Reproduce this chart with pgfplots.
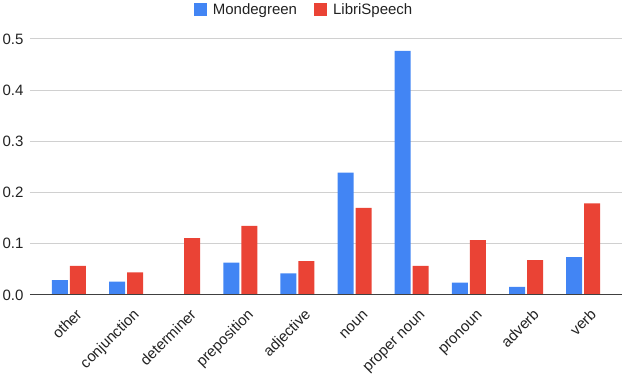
\documentclass[border=0pt]{standalone}
\usepackage{fontspec}
\setmainfont{Liberation Sans}
\usepackage{pgfplots}
\pgfplotsset{compat=1.18}
\definecolor{mblue}{HTML}{4285F4}
\definecolor{mred}{HTML}{EA4335}
\definecolor{gridc}{HTML}{D0D0D0}
\definecolor{txt}{HTML}{222222}
\newcommand{\lblfont}{\fontsize{15}{18}\selectfont}
\begin{document}
\begin{tikzpicture}
\begin{axis}[
    scale only axis,
    width=592pt, height=256pt,
    xmin=-0.68, xmax=9.68,
    ymin=0, ymax=0.5,
    ytick={0,0.1,0.2,0.3,0.4,0.5},
    xtick={0,...,9},
    xticklabels={other,conjunction,determiner,preposition,adjective,noun,proper noun,pronoun,adverb,verb},
    major tick length=0pt,
    axis line style={draw=none},
    ymajorgrids=true,
    grid style={gridc, line width=1pt},
    tick label style={font=\lblfont, text=txt},
    yticklabel style={/pgf/number format/fixed, /pgf/number format/fixed zerofill,
        /pgf/number format/precision=1, xshift=-3pt},
    /pgf/number format/assume math mode=true,
    xticklabel style={xshift=14pt, yshift=-20.5pt, rotate=45, anchor=base east, inner sep=0pt},
    legend style={at={(0.463,1)}, anchor=center, yshift=29.5pt, draw=none,
        font=\lblfont, text=txt, legend columns=2,
        /tikz/every odd column/.append style={column sep=4pt},
        /tikz/every even column/.append style={column sep=15pt}},
    legend image code/.code={\fill[#1] (0pt,-6.5pt) rectangle (13pt,6.5pt);},
]
\addplot[ybar, fill=mblue, draw=none, bar width=16pt, bar shift=-9pt]
    coordinates {(0,0.029)(1,0.026)(2,0.001)(3,0.063)(4,0.042)(5,0.239)(6,0.477)(7,0.024)(8,0.016)(9,0.074)};
\addplot[ybar, fill=mred, draw=none, bar width=16pt, bar shift=9pt]
    coordinates {(0,0.057)(1,0.044)(2,0.111)(3,0.135)(4,0.066)(5,0.170)(6,0.057)(7,0.107)(8,0.068)(9,0.179)};
\legend{Mondegreen,LibriSpeech}
\draw[color=black!75, line width=1.3pt] (axis cs:-0.68,0) -- (axis cs:9.68,0);
\end{axis}
\pgfresetboundingbox
\path ([shift={(-30pt,-81pt)}]current axis.south west) rectangle ([shift={(0pt,39pt)}]current axis.north east);
\end{tikzpicture}
\end{document}
